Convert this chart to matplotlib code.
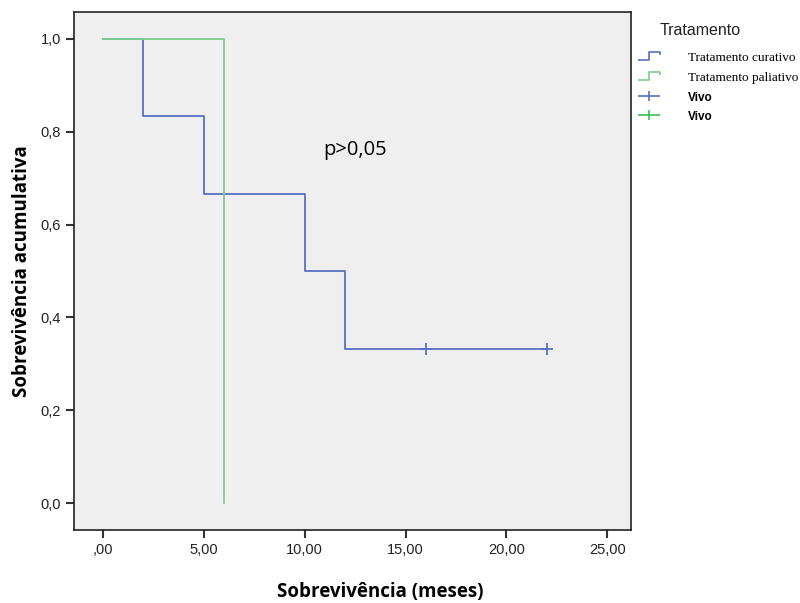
import numpy as np
import matplotlib.pyplot as plt
from matplotlib.path import Path
from matplotlib.lines import Line2D

# Dados de sobrevivência (Kaplan-Meier)
tempo_curativo = [0, 2, 5, 10, 12, 22]
surv_curativo = [1.0, 0.833, 0.667, 0.5, 0.333, 0.333]
censura_curativo_t = [16, 22]
censura_curativo_s = [0.333, 0.333]

tempo_paliativo = [0, 6, 6]
surv_paliativo = [1.0, 1.0, 0.0]

xticks = [0, 5, 10, 15, 20, 25]
xtick_labels = [',00', '5,00', '10,00', '15,00', '20,00', '25,00']
yticks = [0.0, 0.2, 0.4, 0.6, 0.8, 1.0]
ytick_labels = ['0,0', '0,2', '0,4', '0,6', '0,8', '1,0']

azul = '#5a6fc2'
verde = '#7ccf8a'

fig = plt.figure(figsize=(8, 6.03), dpi=100)
ax = fig.add_axes([0.0925, 0.121, 0.6965, 0.859])
ax.set_facecolor('#efefef')

ax.step(tempo_curativo, surv_curativo, where='post', color=azul, lw=1.3)
ax.step(tempo_paliativo, surv_paliativo, where='post', color=verde, lw=1.3)
ax.plot(censura_curativo_t, censura_curativo_s, '+', color=azul, ms=9, mew=1.3)

ax.set_xlim(-1.44, 26.19)
ax.set_ylim(-0.058, 1.058)
ax.set_xticks(xticks)
ax.set_xticklabels(xtick_labels, family='Liberation Sans')
ax.set_yticks(yticks)
ax.set_yticklabels(ytick_labels, family='Liberation Sans')
ax.tick_params(axis='both', length=6, width=1.5, color='#333333', labelsize=10.5,
               labelcolor='#222222')
ax.tick_params(axis='x', pad=3)
for s in ax.spines.values():
    s.set_linewidth(1.2)
    s.set_color('#222222')

ax.set_xlabel('Sobrevivência (meses)', fontsize=13.5, fontweight='bold',
              family='Open Sans')
ax.xaxis.set_label_coords(0.549, -0.1)
ax.set_ylabel('Sobrevivência acumulativa', fontsize=13.5, fontweight='bold',
              family='Open Sans', labelpad=6)

ax.text(10.9, 0.761, 'p>0,05', fontsize=14.5, family='Open Sans', va='center')

# Legenda
degrau = Path([(-1, -0.4), (0, -0.4), (0, 0.4), (1, 0.4), (1, 0.1)])
cruz = Path([(-1, 0), (1, 0), (0, -0.45), (0, 0.45)],
            [Path.MOVETO, Path.LINETO, Path.MOVETO, Path.LINETO])
handles = [
    Line2D([], [], linestyle='none', marker=degrau, markersize=16,
           markeredgecolor=azul, markerfacecolor='none', mew=1.2),
    Line2D([], [], linestyle='none', marker=degrau, markersize=16,
           markeredgecolor=verde, markerfacecolor='none', mew=1.2),
    Line2D([], [], linestyle='none', marker=cruz, markersize=16,
           color=azul, mew=1.2),
    Line2D([], [], linestyle='none', marker=cruz, markersize=16,
           color='#3cbf50', mew=1.2),
]
labels = ['Tratamento curativo', 'Tratamento paliativo', 'Vivo', 'Vivo']
fig.text(0.825, 0.95, 'Tratamento', fontsize=11.5, color='#222222',
         family='Liberation Sans', ha='left', va='center')
leg = fig.legend(handles, labels, loc='upper left',
                 bbox_to_anchor=(0.7975, 0.9145), frameon=False,
                 borderpad=0, borderaxespad=0,
                 handletextpad=2.0, labelspacing=0.5, handlelength=1.6)
for i, t in enumerate(leg.get_texts()):
    if i < 2:
        t.set_fontfamily('Liberation Serif')
        t.set_fontsize(9.5)
    else:
        t.set_fontfamily('Liberation Sans')
        t.set_fontweight('bold')
        t.set_fontsize(8.5)

fig.savefig('out.png')
